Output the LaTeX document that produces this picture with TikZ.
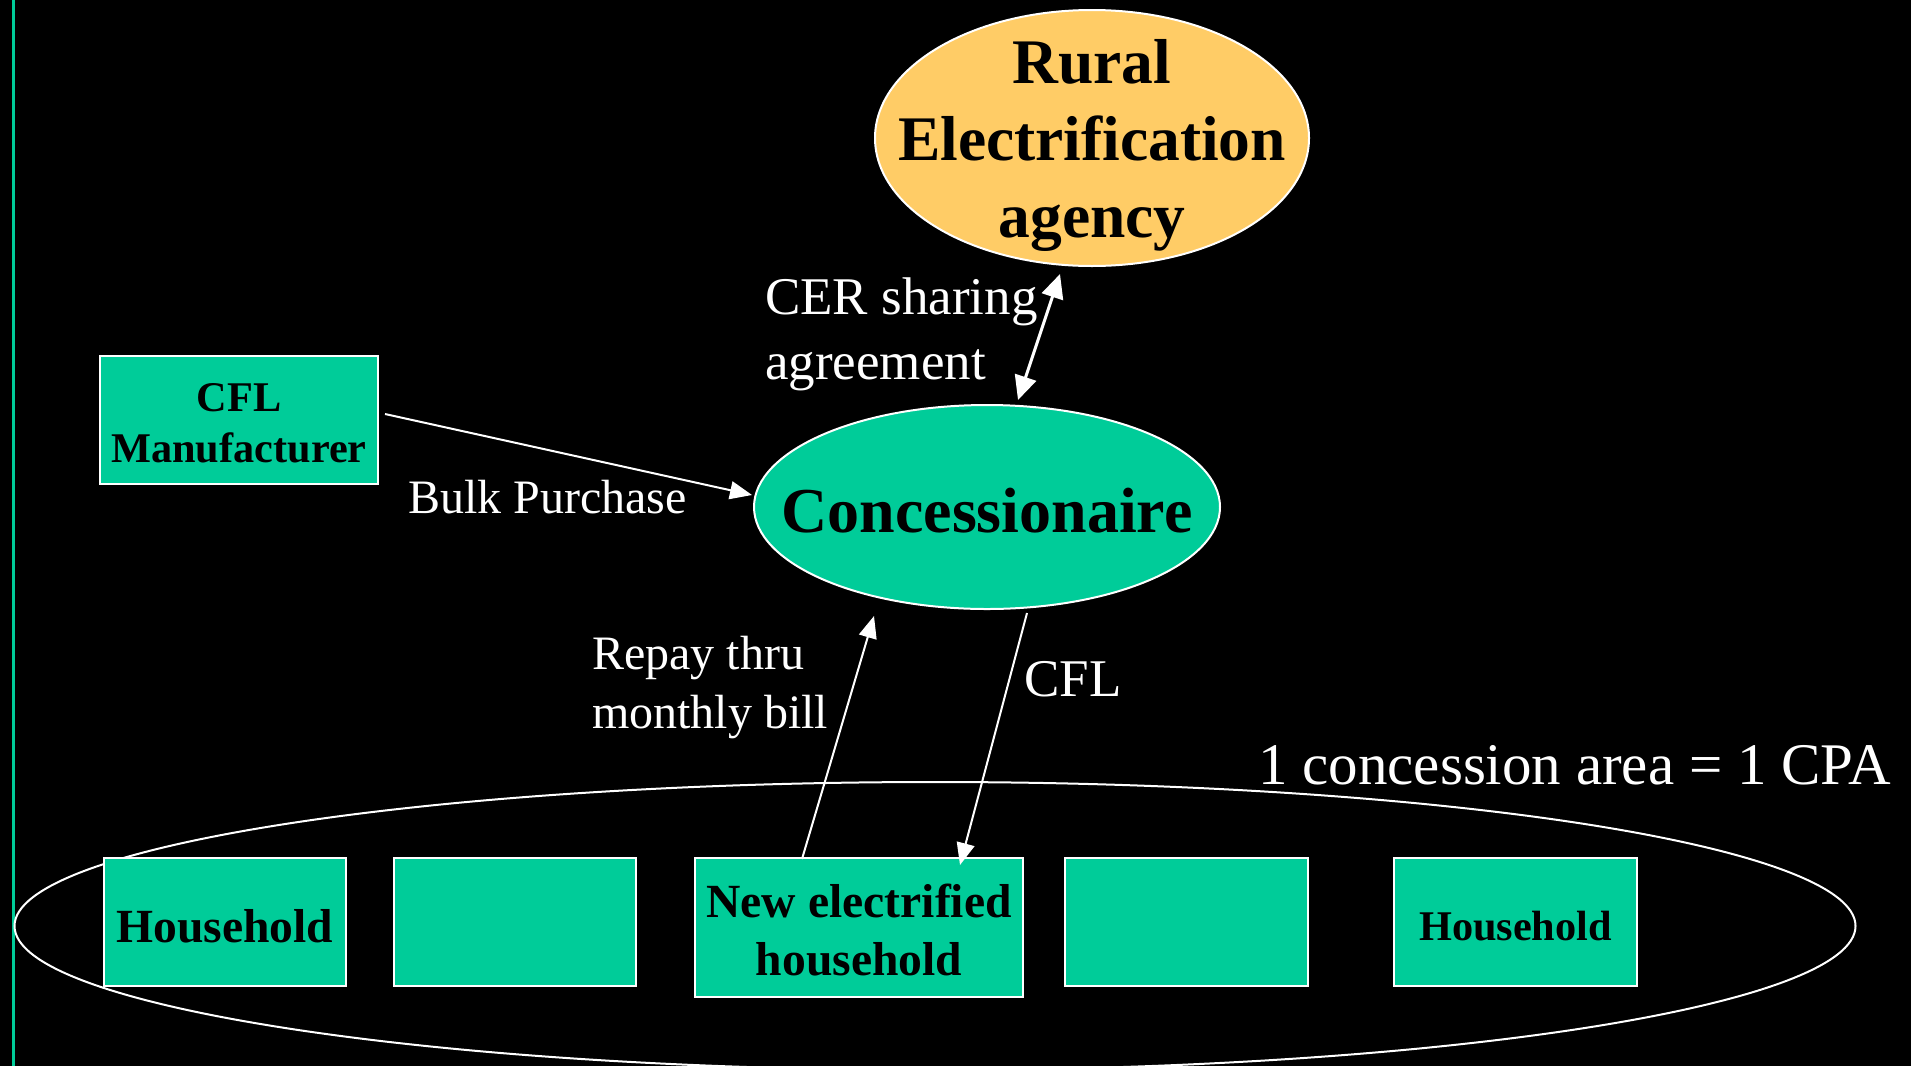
\documentclass[tikz,border=0pt]{standalone}
\usepackage{fontspec}
\setmainfont{Liberation Serif}
\usetikzlibrary{shapes.geometric,arrows.meta,calc}
\definecolor{teal1}{HTML}{00CC99}
\definecolor{orange1}{HTML}{FFCC66}
\tikzset{
  box/.style={draw=white,line width=2pt,fill=teal1,inner sep=0pt,align=center,text=black,font=\bfseries\fontsize{47.6}{58.5}\selectfont},
  ell/.style={ellipse,draw=white,line width=2pt,inner sep=0pt},
  lab/.style={text=white,anchor=west,align=left,inner sep=0pt},
  arr/.style={draw=white,line width=2pt,-{Triangle[length=22pt,width=18pt]}},
  darr/.style={draw=white,line width=3pt,{Triangle[length=24pt,width=22pt]}-{Triangle[length=24pt,width=22pt]}}
}
\begin{document}
\begin{tikzpicture}[x=1pt,y=-1pt]
\fill[black] (0,0) rectangle (1911,1066);
\useasboundingbox (0,0) rectangle (1911,1066);
\coordinate (vtop) at (13,0);
\coordinate (vbot) at (13,1066);
\draw[teal1,line width=3pt] (vtop) -- (vbot);
% big area ellipse
\node[ell,minimum width=1841pt,minimum height=288pt] (area) at (935,926) {};
% rural ellipse
\node[ell,fill=orange1,minimum width=434pt,minimum height=256pt] (rural) at (1092,138) {};
\node[align=center,font=\bfseries\fontsize{63.5}{77}\selectfont,inner sep=0pt] (ruraltxt) at (1092,145) {Rural\\Electrification\\agency};
% concessionaire
\node[ell,fill=teal1,minimum width=466pt,minimum height=204pt] (conc) at (987,507) {};
\node[font=\bfseries\fontsize{64}{77}\selectfont,inner sep=0pt] (conctxt) at (987,511) {Concessionaire};
% CFL manufacturer
\node[box,minimum width=278pt,minimum height=128pt] (cfl) at (239,420) {};
\node[align=center,inner sep=0pt,font=\bfseries\fontsize{42.3}{51}\selectfont] (cfltxt) at (239,423) {CFL\\Manufacturer};
% households
\node[box,minimum width=242pt,minimum height=128pt] (hh1) at (225,922) {};
\node[inner sep=0pt,font=\bfseries\fontsize{47.6}{58.5}\selectfont] (hh1txt) at (225,926) {Household};
\node[box,minimum width=242pt,minimum height=128pt] (hh2) at (515,922) {};
\node[box,minimum width=328pt,minimum height=139pt] (hh3) at (859,927.5) {};
\node[align=center,inner sep=0pt,font=\bfseries\fontsize{47.6}{58.5}\selectfont] (hh3txt) at (859,930) {New electrified\\household};
\node[box,minimum width=243pt,minimum height=128pt] (hh4) at (1186.5,922) {};
\node[box,minimum width=243pt,minimum height=128pt] (hh5) at (1515.5,922) {};
\node[inner sep=0pt,font=\bfseries\fontsize{42.3}{51}\selectfont] (hh5txt) at (1515.5,926) {Household};
% labels
\node[lab,font=\fontsize{53}{65}\selectfont] (cerlab) at (765,334) {CER sharing\\agreement};
\node[lab,font=\fontsize{48}{57}\selectfont] (bulklab) at (408,497) {Bulk Purchase};
\node[lab,font=\fontsize{48}{59}\selectfont] (repaylab) at (592,688) {Repay thru\\monthly bill};
\node[lab,font=\fontsize{53}{65}\selectfont] (cfllab) at (1024,679) {CFL};
\node[lab,font=\fontsize{59}{70}\selectfont] (arealab) at (1258,765) {1 concession area = 1 CPA};
% connectors
\draw[arr] ($(cfl.center)+(146,-6)$) -- ($(conc.center)+(-235,-12)$);
\draw[darr] ($(conc.center)+(31,-107)$) -- ($(rural.center)+(-32,136)$);
\draw[arr] ($(hh3.center)+(-57,-68.5)$) -- ($(conc.center)+(-113,109)$);
\draw[arr] ($(conc.center)+(40,106)$) -- ($(hh3.center)+(101,-62.5)$);
\end{tikzpicture}
\end{document}
